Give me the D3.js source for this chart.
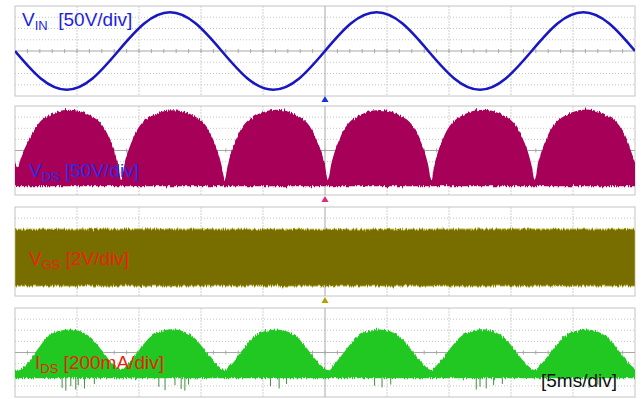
<!DOCTYPE html>
<html>
<head>
<meta charset="utf-8">
<script src="https://cdn.jsdelivr.net/npm/d3@7"></script>
<style>
  body { margin: 0; background: #fff; }
  svg { display: block; font-family: "Liberation Sans", Arial, sans-serif; }
</style>
</head>
<body>
<div id="chart"></div>
<script>
// time base: 10 divisions of 5 ms
const xDivs = [0, 5, 10, 15, 20, 25, 30, 35, 40, 45, 50];

// V_IN trace (volts)
const vinTimes = [0, 2.08, 4.17, 6.25, 8.33, 10.42, 12.5, 14.58, 16.67, 18.75, 20.83, 22.92, 25,
                  27.08, 29.17, 31.25, 33.33, 35.42, 37.5, 39.58, 41.67, 43.75, 45.83, 47.92, 50];
const vinVolts = [0, -122, -172, -122, 0, 122, 172, 122, 0, -122, -172, -122, 0,
                  122, 172, 122, 0, -122, -172, -122, 0, 122, 172, 122, 0];

// V_DS envelope (volts)
const vdsTimes = [0, 0.24, 0.49, 0.79, 1.24, 2.24, 4.41, 6.57, 7.57, 8.02, 8.32,
                  8.57, 8.82, 9.12, 9.57, 10.57, 12.74, 14.90, 15.90, 16.35, 16.65,
                  16.91, 17.16, 17.46, 17.91, 18.91, 21.08, 23.24, 24.24, 24.69, 24.99,
                  25.24, 25.49, 25.79, 26.24, 27.24, 29.41, 31.57, 32.57, 33.02, 33.32,
                  33.57, 33.82, 34.12, 34.57, 35.57, 37.74, 39.90, 40.90, 41.35, 41.65,
                  41.91, 42.16, 42.46, 42.91, 43.91, 46.08, 48.24, 49.24, 49.69, 50];
const vdsVolts = [103, 80, 125, 165, 215, 295, 338, 295, 215, 150, 90,
                  22, 90, 150, 215, 295, 336, 295, 215, 150, 90,
                  24, 90, 150, 215, 295, 338, 295, 215, 150, 90,
                  22, 90, 150, 215, 295, 337, 295, 215, 150, 90,
                  22, 90, 150, 215, 295, 338, 295, 215, 150, 90,
                  24, 90, 150, 215, 295, 339, 295, 215, 150, 100];

// V_GS band (volts)
const vgsTimes = [0, 10, 20, 30, 40, 50];
const vgsHigh = [10.2, 10.25, 10.2, 10.2, 10.25, 10.2];
const vgsLow = [0, 0, 0, 0, 0, 0];

// I_DS envelope (mA)
const idsTimes = [0, 0.24, 0.64, 1.04, 1.84, 2.64, 3.44, 4.41, 5.34, 6.14, 6.94, 7.74, 8.14,
                  8.57, 8.97, 9.37, 10.17, 10.97, 11.77, 12.74, 13.67, 14.47, 15.27, 16.07, 16.47,
                  16.91, 17.31, 17.71, 18.51, 19.31, 20.11, 21.08, 22.01, 22.81, 23.61, 24.41, 24.81,
                  25.24, 25.64, 26.04, 26.84, 27.64, 28.44, 29.41, 30.34, 31.14, 31.94, 32.74, 33.14,
                  33.57, 33.97, 34.37, 35.17, 35.97, 36.77, 37.74, 38.67, 39.47, 40.27, 41.07, 41.47,
                  41.91, 42.31, 42.71, 43.51, 44.31, 45.11, 46.08, 47.01, 47.81, 48.61, 49.41, 49.81, 50];
const idsMilliamps = [60, 60, 110, 200, 450, 670, 770, 800, 760, 650, 440, 220, 130,
                      70, 150, 250, 480, 680, 770, 805, 760, 650, 440, 220, 130,
                      70, 150, 250, 480, 680, 770, 800, 760, 650, 440, 220, 130,
                      70, 150, 250, 480, 680, 770, 800, 760, 650, 440, 220, 130,
                      70, 150, 250, 480, 680, 770, 805, 760, 650, 440, 220, 130,
                      70, 150, 250, 480, 680, 770, 800, 760, 650, 440, 220, 130, 100];

// I_DS negative spikes below the baseline (mA)
const idsSpikeTimes = [3.8, 4.1, 4.5, 4.9, 5.1, 5.6, 6.4, 11.6, 12.1, 12.9, 13.4, 13.7, 14.0,
                       20.6, 21.3, 21.9, 29.0, 29.6, 30.3, 37.2, 37.5, 38.0, 38.6, 39.3, 45.6, 46.3, 47.0];
const idsSpikeDepth = [-250, -300, -220, -280, -200, -260, -180, -230, -290, -200, -270, -300, -190,
                       -220, -260, -180, -210, -240, -190, -280, -230, -260, -200, -180, -210, -250, -190];

const W = 643, H = 399;
const left = 15, right = 635;

const svg = d3.select('#chart').append('svg')
  .attr('width', W)
  .attr('height', H);
const defs = svg.append('defs');

// jagged edge for the switching noise
const f = defs.append('filter').attr('id', 'jag')
  .attr('x', '-2%').attr('y', '-20%').attr('width', '104%').attr('height', '140%');
f.append('feTurbulence').attr('type', 'fractalNoise')
  .attr('baseFrequency', '0.9 0.04').attr('numOctaves', 2).attr('seed', 4).attr('result', 'n');
f.append('feColorMatrix').attr('in', 'n').attr('type', 'matrix')
  .attr('values', '0 0 0 0 0.5  0 1 0 0 0  0 0 0 0 0  0 0 0 0 1').attr('result', 'm');
f.append('feDisplacementMap').attr('in', 'SourceGraphic').attr('in2', 'm')
  .attr('scale', 5).attr('xChannelSelector', 'R').attr('yChannelSelector', 'G');

const x = d3.scaleLinear().domain([0, 50]).range([left, right]);

const panels = [
  { top: 6, bottom: 96, groundDiv: 0, perDiv: 50 },
  { top: 106, bottom: 195, groundDiv: -3.1, perDiv: 50 },
  { top: 207, bottom: 296, groundDiv: -3.1, perDiv: 2 },
  { top: 308, bottom: 397, groundDiv: -1.93, perDiv: 200 }
];

panels.forEach((p, i) => {
  p.divH = (p.bottom - p.top) / 8;
  p.mid = (p.top + p.bottom) / 2;
  p.y = d3.scaleLinear()
    .domain([(-4 - p.groundDiv) * p.perDiv, (4 - p.groundDiv) * p.perDiv])
    .range([p.bottom, p.top]);

  defs.append('clipPath').attr('id', 'clip' + i)
    .append('rect')
    .attr('x', left).attr('y', p.top)
    .attr('width', right - left).attr('height', p.bottom - p.top);

  const g = svg.append('g').attr('class', 'grid');
  g.append('rect')
    .attr('x', left).attr('y', p.top)
    .attr('width', right - left).attr('height', p.bottom - p.top)
    .attr('fill', '#fff').attr('stroke', '#c4c4c4');

  // horizontal dotted division lines
  g.selectAll('.hline')
    .data([-3, -2, -1, 1, 2, 3])
    .enter().append('line')
    .attr('x1', left).attr('x2', right)
    .attr('y1', (d) => p.mid + d * p.divH)
    .attr('y2', (d) => p.mid + d * p.divH)
    .attr('stroke', '#c4c4c4').attr('stroke-dasharray', '1,2');

  // vertical division lines
  g.selectAll('.vline')
    .data(xDivs.slice(1, -1))
    .enter().append('line')
    .attr('x1', (d) => x(d)).attr('x2', (d) => x(d))
    .attr('y1', p.top).attr('y2', p.bottom)
    .attr('stroke', (d) => d === 25 ? '#a8a8a8' : '#cfcfcf')
    .attr('stroke-dasharray', (d) => d === 25 ? null : '2,1');

  // centre axis with minor ticks
  g.append('line')
    .attr('x1', left).attr('x2', right)
    .attr('y1', p.mid).attr('y2', p.mid)
    .attr('stroke', '#a8a8a8');
  g.selectAll('.tick')
    .data(d3.range(1, 50, 1))
    .enter().append('line')
    .attr('x1', (d) => x(d)).attr('x2', (d) => x(d))
    .attr('y1', p.mid - 2).attr('y2', p.mid + 2)
    .attr('stroke', '#a8a8a8');
});

// V_IN
const p0 = panels[0];
svg.append('g').attr('clip-path', 'url(#clip0)')
  .append('path')
  .datum(d3.zip(vinTimes, vinVolts))
  .attr('fill', 'none')
  .attr('stroke', '#1818c0')
  .attr('stroke-width', 2.6)
  .attr('d', d3.line().curve(d3.curveNatural)
    .x((d) => x(d[0])).y((d) => p0.y(d[1])));

// V_DS
const p1 = panels[1];
svg.append('g').attr('clip-path', 'url(#clip1)')
  .append('path')
  .datum(d3.zip(vdsTimes, vdsVolts))
  .attr('fill', '#a60058')
  .attr('filter', 'url(#jag)')
  .attr('d', d3.area().curve(d3.curveMonotoneX)
    .x((d) => x(d[0])).y0(p1.y(-6)).y1((d) => p1.y(d[1])));

// V_GS
const p2 = panels[2];
const vgsG = svg.append('g').attr('clip-path', 'url(#clip2)');
vgsG.append('path')
  .datum(d3.zip(vgsTimes, vgsLow, vgsHigh))
  .attr('fill', '#786e00')
  .attr('stroke', '#b3a828')
  .attr('stroke-width', 1)
  .attr('filter', 'url(#jag)')
  .attr('d', d3.area()
    .x((d) => x(d[0])).y0((d) => p2.y(d[1])).y1((d) => p2.y(d[2])));

// I_DS
const p3 = panels[3];
const idsG = svg.append('g').attr('clip-path', 'url(#clip3)');
idsG.selectAll('.spike')
  .data(d3.zip(idsSpikeTimes, idsSpikeDepth))
  .enter().append('line')
  .attr('x1', (d) => x(d[0])).attr('x2', (d) => x(d[0]))
  .attr('y1', p3.y(-60)).attr('y2', (d) => p3.y(d[1]))
  .attr('stroke', '#3f8f3f').attr('stroke-width', 1);
idsG.append('path')
  .datum(d3.zip(idsTimes, idsMilliamps))
  .attr('fill', '#22c822')
  .attr('filter', 'url(#jag)')
  .attr('d', d3.area().curve(d3.curveMonotoneX)
    .x((d) => x(d[0])).y0(p3.y(-75)).y1((d) => p3.y(d[1])));

// trigger / ground markers
const markers = [
  { y: 100, color: '#1a30e0' },
  { y: 200, color: '#e0287f' },
  { y: 301, color: '#b0a400' }
];
svg.selectAll('.marker')
  .data(markers)
  .enter().append('path')
  .attr('transform', (d) => `translate(${x(25)},${d.y})`)
  .attr('d', d3.symbol(d3.symbolTriangle).size(22))
  .attr('fill', (d) => d.color);

// labels
const labels = [
  { main: 'V', sub: 'IN', rest: '  [50V/div]', x: 22, y: 26, color: '#1e1ee0' },
  { main: 'V', sub: 'DS', rest: ' [50V/div]', x: 29, y: 177, color: '#2a2ae6' },
  { main: 'V', sub: 'GS', rest: ' [2V/div]', x: 29, y: 265, color: '#e8240e' },
  { main: 'I', sub: 'DS', rest: ' [200mA/div]', x: 35, y: 369, color: '#e8240e' }
];
labels.forEach((l) => {
  const t = svg.append('text')
    .attr('x', l.x).attr('y', l.y)
    .attr('font-size', 19)
    .attr('fill', l.color)
    .attr('xml:space', 'preserve');
  t.append('tspan').text(l.main);
  t.append('tspan').attr('font-size', 13).attr('dy', 4).text(l.sub);
  t.append('tspan').attr('dy', -4).text(l.rest);
});

svg.append('text')
  .attr('x', 541).attr('y', 387)
  .attr('font-size', 19)
  .attr('fill', '#111')
  .text('[5ms/div]');
</script>
</body>
</html>
